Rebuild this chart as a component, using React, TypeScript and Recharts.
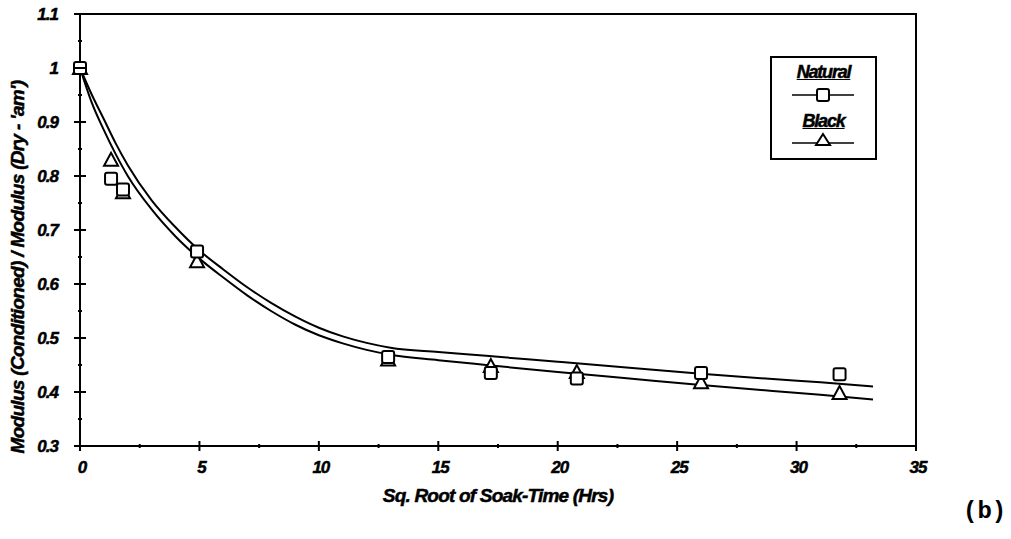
import React from 'react';
import { ComposedChart, Line, Scatter, XAxis, YAxis, ReferenceArea } from 'recharts';

// measured points (sqrt hrs vs modulus ratio)
const naturalX = [0, 1.3, 1.8, 4.9, 12.9, 17.2, 20.8, 26, 31.8];
const naturalY = [1.0, 0.795, 0.775, 0.66, 0.465, 0.435, 0.425, 0.435, 0.433];
const blackX = [0, 1.3, 1.8, 4.9, 12.9, 17.2, 20.8, 26, 31.8];
const blackY = [1.0, 0.83, 0.77, 0.642, 0.46, 0.448, 0.437, 0.418, 0.398];

// fitted curves
const curveX = [0, 0.5, 1, 1.5, 2, 3, 4, 5, 6, 7, 8, 9, 10, 11, 12, 13, 15, 17, 20, 23, 26, 29, 31, 33.2];
const upperY = [1.0, 0.95, 0.905, 0.86, 0.82, 0.755, 0.705, 0.662, 0.627, 0.594, 0.565, 0.54, 0.519, 0.503, 0.491, 0.482, 0.474, 0.467, 0.456, 0.445, 0.434, 0.424, 0.418, 0.41];
const lowerY = [1.0, 0.935, 0.885, 0.84, 0.8, 0.738, 0.688, 0.647, 0.612, 0.579, 0.55, 0.525, 0.505, 0.49, 0.478, 0.469, 0.459, 0.45, 0.437, 0.425, 0.413, 0.402, 0.395, 0.386];

const xTicks = [0, 2.5, 5, 7.5, 10, 12.5, 15, 17.5, 20, 22.5, 25, 27.5, 30, 32.5, 35];
const yTicks = [0.3, 0.35, 0.4, 0.45, 0.5, 0.55, 0.6, 0.65, 0.7, 0.75, 0.8, 0.85, 0.9, 0.95, 1.0, 1.05, 1.1];

const natural = naturalX.map((x, i) => ({ x, y: naturalY[i] }));
const black = blackX.map((x, i) => ({ x, y: blackY[i] }));
const upper = curveX.map((x, i) => ({ x, y: upperY[i] }));
const lower = curveX.map((x, i) => ({ x, y: lowerY[i] }));

const FONT = '"Liberation Sans", Arial, sans-serif';
const txt = { fontFamily: FONT, fontWeight: 'bold' as const, fontStyle: 'italic' as const, fill: '#000', stroke: '#000', strokeWidth: 0.5 };

const isMajor = (v: number, step: number) => Math.abs(v / step - Math.round(v / step)) < 1e-6;

const XTick = (props: any) => {
  const { x, y, payload } = props;
  const major = isMajor(payload.value, 5);
  return (
    <g>
      <line x1={x} x2={x} y1={y - (major ? 5 : 2)} y2={y + (major ? 5 : 2)} stroke="#000" strokeWidth={2} />
      {major && (
        <text x={x + 2} y={y + 27} textAnchor="middle" fontSize={17} letterSpacing={-1} {...txt}>
          {payload.value}
        </text>
      )}
    </g>
  );
};

const YTick = (props: any) => {
  const { x, y, payload } = props;
  const major = isMajor(payload.value, 0.1);
  return (
    <g>
      <line x1={x - (major ? 6 : 2)} x2={x + (major ? 6 : 2)} y1={y} y2={y} stroke="#000" strokeWidth={2} />
      {major && (
        <text x={x - 22} y={y + 6} textAnchor="end" fontSize={17} letterSpacing={-1} {...txt}>
          {Number(payload.value.toFixed(1)).toString()}
        </text>
      )}
    </g>
  );
};

const SquareShape = (props: any) => {
  const { cx, cy } = props;
  return <rect x={cx - 6} y={cy - 6} width={12} height={12} rx={2} fill="#fff" stroke="#000" strokeWidth={2} />;
};

const TriangleShape = (props: any) => {
  const { cx, cy } = props;
  return <polygon points={`${cx},${cy - 7} ${cx - 7},${cy + 6} ${cx + 7},${cy + 6}`} fill="#fff" stroke="#000" strokeWidth={2} />;
};

const YLabel = (props: any) => {
  const vb = props.viewBox;
  const cx = 19;
  const cy = vb.y + vb.height / 2 + 37;
  return (
    <text x={cx} y={cy} transform={`rotate(-90, ${cx}, ${cy})`} textAnchor="middle" dominantBaseline="middle" fontSize={19} letterSpacing={-0.7} {...txt}>
      Modulus (Conditioned) / Modulus (Dry - 'am')
    </text>
  );
};

const Legend = () => (
  <div style={{ position: 'absolute', left: 770, top: 56, width: 103, height: 100, border: '2px solid #000', fontFamily: FONT, fontWeight: 'bold', fontStyle: 'italic', fontSize: 18, letterSpacing: -1.2, WebkitTextStroke: '0.5px #000' }}>
    <div style={{ position: 'absolute', top: 4, width: '100%', textAlign: 'center', textDecoration: 'underline' }}>Natural</div>
    <svg style={{ position: 'absolute', left: 20, top: 29 }} width={62} height={16}>
      <line x1={0} x2={62} y1={8} y2={8} stroke="#000" strokeWidth={1.5} />
      <rect x={25} y={2} width={12} height={12} rx={2} fill="#fff" stroke="#000" strokeWidth={2} />
    </svg>
    <div style={{ position: 'absolute', top: 53, width: '100%', textAlign: 'center', textDecoration: 'underline' }}>Black</div>
    <svg style={{ position: 'absolute', left: 20, top: 74 }} width={62} height={16}>
      <line x1={0} x2={62} y1={11} y2={11} stroke="#000" strokeWidth={1.5} />
      <polygon points="31,2 24,13 38,13" fill="#fff" stroke="#000" strokeWidth={2} />
    </svg>
  </div>
);

export default function App() {
  return (
    <div style={{ position: 'absolute', left: 0, top: 0, width: 1011, height: 539, background: '#fff' }}>
      <ComposedChart width={1011} height={539} margin={{ top: 14, right: 95, bottom: 33, left: 0 }}>
        <XAxis
          type="number"
          dataKey="x"
          domain={[0, 35]}
          ticks={xTicks}
          interval={0}
          axisLine={{ stroke: '#000', strokeWidth: 2 }}
          tickLine={false}
          tickSize={0}
          tickMargin={0}
          tick={<XTick />}
          height={60}
          label={{ value: 'Sq. Root of Soak-Time (Hrs)', position: 'insideBottom', offset: 4, style: { ...txt, fontSize: 19, letterSpacing: -0.8 } }}
        />
        <YAxis
          type="number"
          dataKey="y"
          domain={[0.3, 1.1]}
          ticks={yTicks}
          interval={0}
          axisLine={{ stroke: '#000', strokeWidth: 2 }}
          tickLine={false}
          tickSize={0}
          tickMargin={0}
          tick={<YTick />}
          width={80}
          label={<YLabel />}
        />
        <ReferenceArea x1={0} x2={35} y1={0.3} y2={1.1} fill="none" stroke="#000" strokeWidth={2} ifOverflow="visible" />
        <Line data={upper} dataKey="y" type="monotone" stroke="#000" strokeWidth={2} dot={false} isAnimationActive={false} />
        <Line data={lower} dataKey="y" type="monotone" stroke="#000" strokeWidth={2} dot={false} isAnimationActive={false} />
        <Scatter data={black} dataKey="y" shape={<TriangleShape />} isAnimationActive={false} />
        <Scatter data={natural} dataKey="y" shape={<SquareShape />} isAnimationActive={false} />
      </ComposedChart>
      <Legend />
      <div style={{ position: 'absolute', left: 963, top: 498, fontFamily: '"Liberation Mono", monospace', fontWeight: 'bold', fontSize: 24 }}>(b)</div>
    </div>
  );
}
